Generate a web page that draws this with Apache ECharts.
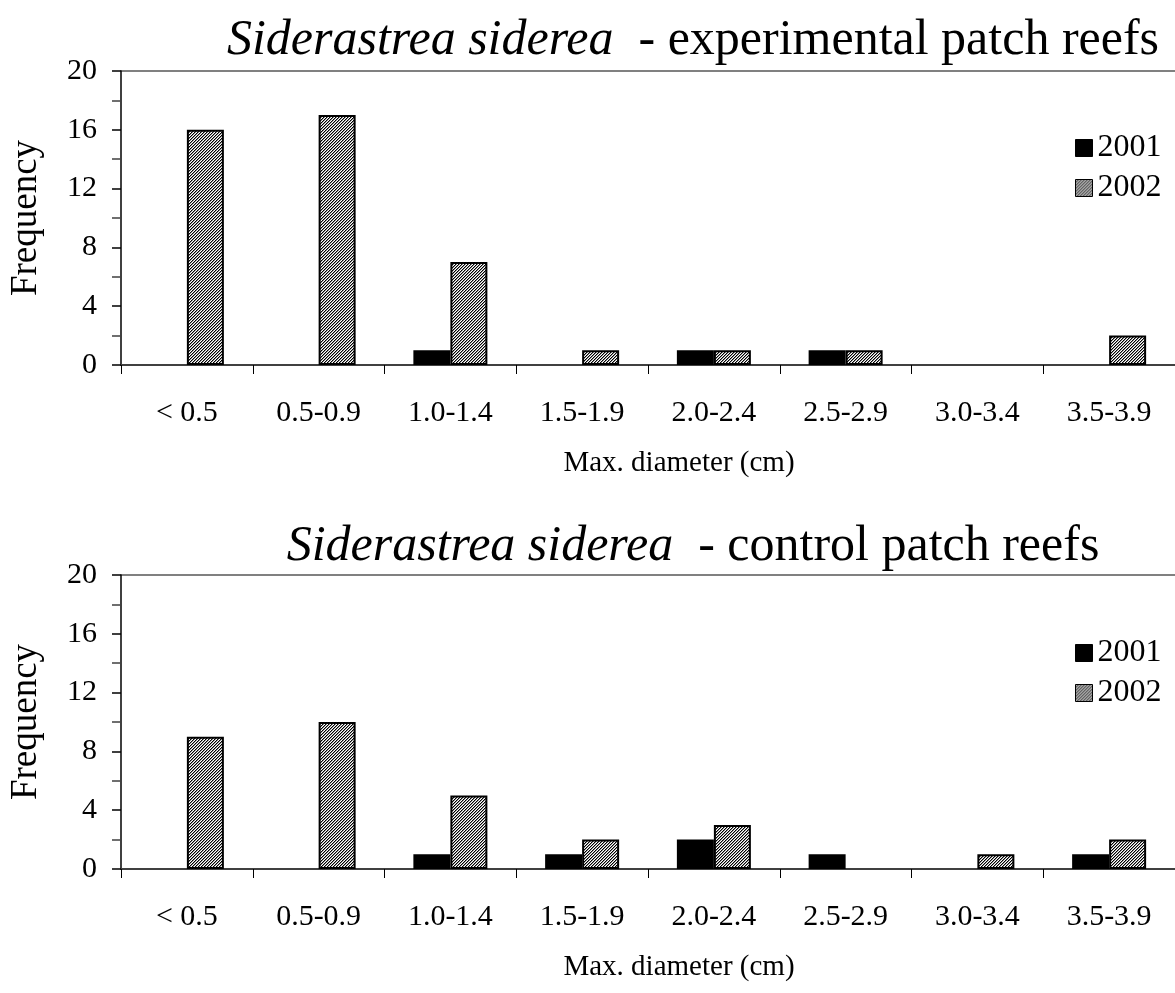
<!DOCTYPE html>
<html>
<head>
<meta charset="utf-8">
<script src="https://cdn.jsdelivr.net/npm/echarts@6/dist/echarts.min.js"></script>
<style>
html,body{margin:0;padding:0;background:#fff;}
#chart{width:1175px;height:993px;}
</style>
</head>
<body>
<div id="chart"></div>
<script>
// ---- data ----
const categories = ['< 0.5', '0.5-0.9', '1.0-1.4', '1.5-1.9', '2.0-2.4', '2.5-2.9', '3.0-3.4', '3.5-3.9'];
const seriesNames = ['2001', '2002'];
const expYear2001 = [0, 0, 1, 0, 1, 1, 0, 0];
const expYear2002 = [16, 17, 7, 1, 1, 1, 0, 2];
const ctlYear2001 = [0, 0, 1, 1, 2, 1, 0, 1];
const ctlYear2002 = [9, 10, 5, 2, 3, 0, 1, 2];
const titleItalic = 'Siderastrea siderea';
const titleExp = '  - experimental patch reefs';
const titleCtl = '  - control patch reefs';
const yAxisName = 'Frequency';
const xAxisName = 'Max. diameter (cm)';

// ---- hatch pattern ----
function makePattern() {
  const n = 3;
  const c = document.createElement('canvas');
  c.width = n; c.height = n;
  const ctx = c.getContext('2d');
  ctx.fillStyle = '#ffffff';
  ctx.fillRect(0, 0, n, n);
  for (let i = 0; i < n; i++) {
    ctx.fillStyle = '#000000';
    ctx.fillRect(i, (n - 1 - i) % n, 1, 1);
    ctx.fillStyle = '#909090';
    ctx.fillRect(i, (n - i) % n, 1, 1);
  }
  return c;
}
const hatch = { image: makePattern(), repeat: 'repeat' };

const FONT = '"Liberation Serif", "Times New Roman", serif';
const grids = [
  { left: 119, width: 1066, top: 71, height: 294 },
  { left: 119, width: 1066, top: 575, height: 294 }
];

function xAxisCfg(idx) {
  return {
    type: 'category', gridIndex: idx, data: categories,
    axisLine: { lineStyle: { color: '#404040', width: 2 } },
    axisTick: { show: true, length: 9, lineStyle: { color: '#000', width: 1 } },
    axisLabel: { color: '#000', fontFamily: FONT, fontSize: 30, margin: 33 },
    name: xAxisName, nameLocation: 'middle', nameGap: 84,
    nameTextStyle: { color: '#000', fontFamily: FONT, fontSize: 29, padding: [0, 0, 0, 62] }
  };
}
function yAxisCfg(idx) {
  return {
    type: 'value', gridIndex: idx, min: 0, max: 20, interval: 4,
    axisLine: { show: true, lineStyle: { color: '#000', width: 1.5 } },
    axisTick: { show: true, length: 9, lineStyle: { color: '#000', width: 1.5 } },
    minorTick: { show: true, splitNumber: 2, length: 9, lineStyle: { color: '#404040', width: 1.5 } },
    splitLine: { show: true, lineStyle: { color: ['rgba(0,0,0,0)', 'rgba(0,0,0,0)', 'rgba(0,0,0,0)', 'rgba(0,0,0,0)', 'rgba(0,0,0,0)', '#808080'], width: 2 } },
    axisLabel: { color: '#000', fontFamily: FONT, fontSize: 30, margin: 24 },
    name: yAxisName, nameLocation: 'middle', nameGap: 76,
    nameTextStyle: { color: '#000', fontFamily: FONT, fontSize: 37 }
  };
}
function barSeries(name, data, idx, color) {
  return {
    type: 'bar', name: name,
    data: data.map(function (v) { return v === 0 ? null : v; }),
    xAxisIndex: idx, yAxisIndex: idx,
    barWidth: 37, barGap: '0%',
    itemStyle: { color: color, borderColor: '#000', borderWidth: 2 },
    emphasis: { disabled: true }
  };
}
function titleCfg(top, rest) {
  return {
    text: '{i|' + titleItalic + '}{n|' + rest + '}',
    left: 688, top: top, textAlign: 'center',
    textStyle: {
      fontWeight: 'normal',
      rich: {
        i: { fontFamily: FONT, fontStyle: 'italic', fontWeight: 'normal', fontSize: 50, color: '#000' },
        n: { fontFamily: FONT, fontWeight: 'normal', fontSize: 50, color: '#000' }
      }
    }
  };
}
function legendCfg(idx, top) {
  return {
    left: 1070, top: top, orient: 'vertical', itemGap: 8,
    itemWidth: 17, itemHeight: 17, icon: 'rect',
    data: seriesNames,
    textStyle: { color: '#000', fontFamily: FONT, fontSize: 32, lineHeight: 32, padding: [0, 0, 0, 0] },
    itemStyle: { borderColor: '#000', borderWidth: 1 },
    selectedMode: false
  };
}

const chart = echarts.init(document.getElementById('chart'), null, { renderer: 'canvas' });
chart.setOption({
  backgroundColor: '#fff',
  animation: false,
  title: [titleCfg(11, titleExp), titleCfg(517, titleCtl)],
  legend: [legendCfg(0, 127), legendCfg(1, 632)],
  grid: grids,
  xAxis: [xAxisCfg(0), xAxisCfg(1)],
  yAxis: [yAxisCfg(0), yAxisCfg(1)],
  series: [
    barSeries(seriesNames[0], expYear2001, 0, '#000'),
    barSeries(seriesNames[1], expYear2002, 0, hatch),
    barSeries(seriesNames[0], ctlYear2001, 1, '#000'),
    barSeries(seriesNames[1], ctlYear2002, 1, hatch)
  ]
});
</script>
</body>
</html>
